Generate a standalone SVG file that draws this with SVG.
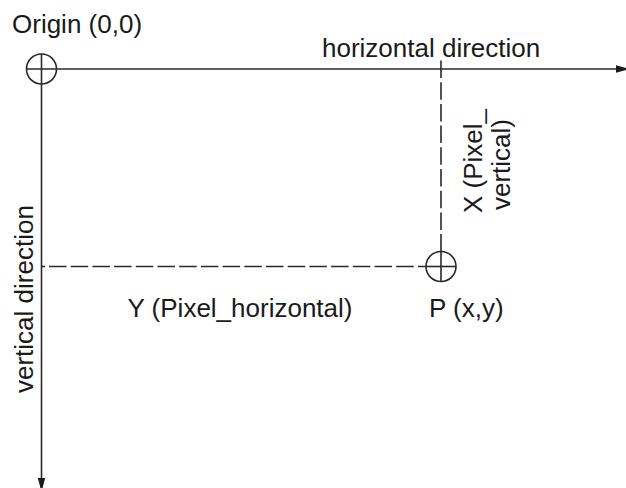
<svg xmlns="http://www.w3.org/2000/svg" width="626" height="488" viewBox="0 0 626 488">
<defs>
<style>
text{font-family:"Liberation Sans",Arial,sans-serif;font-size:26px;fill:#1a1a1a}
.ax{stroke:#2a2a2a;stroke-width:1.6;fill:none}
.d{stroke:#2a2a2a;stroke-width:1.6;fill:none;stroke-dasharray:17.5,4.2}
</style>
<marker id="ah" markerWidth="10" markerHeight="8" refX="10" refY="4" orient="auto" markerUnits="userSpaceOnUse"><path d="M0,0.3 L10,3 L10,5 L0,7.7 Z" fill="#1a1a1a"/></marker>
</defs>
<g id="connectors">
<line class="ax" x1="26" y1="69" x2="626" y2="69" marker-end="url(#ah)"/>
<line class="ax" x1="41.5" y1="54" x2="41.5" y2="488" marker-end="url(#ah)"/>
<line class="d" x1="441" y1="60.5" x2="441" y2="251"/>
<line class="d" x1="49" y1="266.5" x2="426" y2="266.5" style="stroke-dashoffset:0"/>
<line class="ax" x1="41.5" y1="266.5" x2="45" y2="266.5"/>
</g>
<g id="origin">
<circle class="ax" cx="41.5" cy="69" r="15"/>
<text x="12" y="33">Origin (0,0)</text>
</g>
<g id="point">
<circle class="ax" cx="441" cy="266.5" r="15"/>
<line class="ax" x1="441" y1="251" x2="441" y2="282"/>
<line class="ax" x1="426" y1="266.5" x2="456" y2="266.5"/>
<text x="429" y="317">P (x,y)</text>
</g>
<g id="labels">
<text x="322" y="57">horizontal direction</text>
<text x="240" y="317" text-anchor="middle">Y (Pixel_horizontal)</text>
<text transform="translate(33,393) rotate(-90)">vertical direction</text>
<text transform="translate(482,213) rotate(-90)">X (Pixel_</text>
<text transform="translate(510,210) rotate(-90)">vertical)</text>
</g>
</svg>
